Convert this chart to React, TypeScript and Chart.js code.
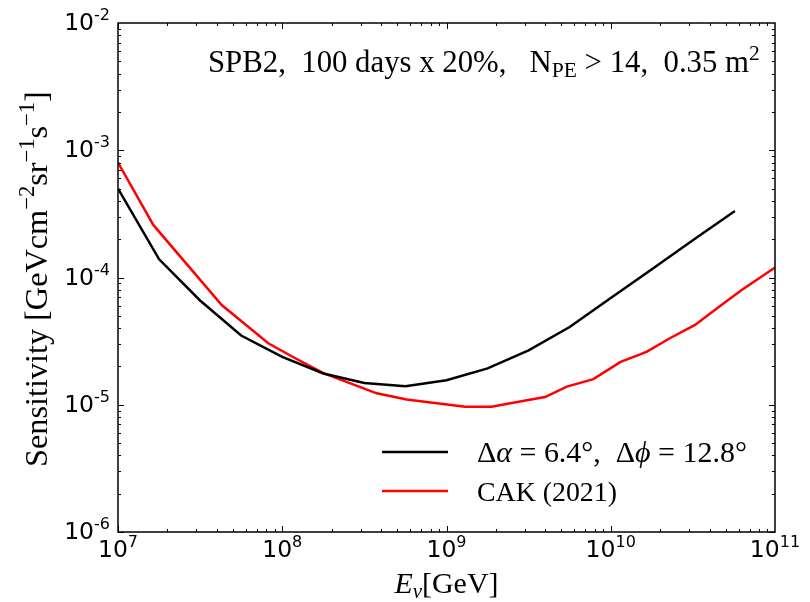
import React, { useEffect, useRef } from "react";
import { Chart, registerables } from "chart.js";

Chart.register(...registerables);

// ---------- data ----------
const xBlack = [1e7, 1.78e7, 3.16e7, 5.62e7, 1e8, 1.78e8, 3.16e8, 5.62e8, 1e9, 1.78e9, 3.16e9, 5.62e9, 1e10, 1.78e10, 3.16e10, 5.7e10];
const yBlack = [5.0e-4, 1.39e-4, 6.6e-5, 3.5e-5, 2.38e-5, 1.76e-5, 1.48e-5, 1.4e-5, 1.56e-5, 1.93e-5, 2.68e-5, 4.08e-5, 6.9e-5, 1.16e-4, 1.96e-4, 3.33e-4];

const xRed = [1e7, 1.64e7, 4.28e7, 8.22e7, 1.2e8, 1.78e8, 3.76e8, 5.72e8, 1.3e9, 1.88e9, 2.8e9, 3.98e9, 5.4e9, 7.84e9, 1.14e10, 1.65e10, 2.29e10, 3.26e10, 4.63e10, 6.27e10, 1e11];
const yRed = [8.0e-4, 2.59e-4, 6.08e-5, 3.04e-5, 2.32e-5, 1.77e-5, 1.23e-5, 1.1e-5, 9.66e-6, 9.66e-6, 1.06e-5, 1.15e-5, 1.39e-5, 1.59e-5, 2.16e-5, 2.6e-5, 3.33e-5, 4.24e-5, 5.97e-5, 7.98e-5, 1.2e-4];

const xTickExponents = [7, 8, 9, 10, 11];
const yTickExponents = [-6, -5, -4, -3, -2];

const seriesLabels = ["Δα = 6.4°,  Δϕ = 12.8°", "CAK (2021)"];
const seriesColors = ["#000000", "#ff0000"];

// ---------- text helpers ----------
const SERIF = '"Liberation Serif", "Times New Roman", serif';
const SANS = '"DejaVu Sans", sans-serif';

type Run = { t: string; size: number; italic?: boolean; dy?: number; family?: string };

function fontOf(r: Run, s: number) {
  return `${r.italic ? "italic " : ""}${(r.size * s).toFixed(2)}px ${r.family ?? SERIF}`;
}
function widthOf(ctx: CanvasRenderingContext2D, runs: Run[], s: number) {
  let w = 0;
  for (const r of runs) {
    ctx.font = fontOf(r, s);
    w += ctx.measureText(r.t).width;
  }
  return w;
}
function drawRuns(ctx: CanvasRenderingContext2D, runs: Run[], x: number, y: number, s: number) {
  for (const r of runs) {
    ctx.font = fontOf(r, s);
    ctx.fillText(r.t, x, y + (r.dy ?? 0) * s);
    x += ctx.measureText(r.t).width;
  }
}
function fit(ctx: CanvasRenderingContext2D, runs: Run[], target: number) {
  return target / widthOf(ctx, runs, 1);
}

const overlay = {
  id: "overlay",
  afterDraw(chart: any) {
    const { ctx, chartArea: a, scales } = chart;
    const xs = scales.x;
    const ys = scales.y;
    ctx.save();
    ctx.fillStyle = "#000";
    ctx.strokeStyle = "#000";
    ctx.textBaseline = "alphabetic";

    // ticks (inward, all four sides)
    ctx.lineWidth = 1;
    ctx.beginPath();
    for (let e = xTickExponents[0]; e < xTickExponents[xTickExponents.length - 1]; e++) {
      for (let m = 1; m <= 9; m++) {
        const px = Math.round(xs.getPixelForValue(m * Math.pow(10, e))) + 0.5;
        const len = m === 1 ? 6 : 3;
        ctx.moveTo(px, a.bottom);
        ctx.lineTo(px, a.bottom - len);
        ctx.moveTo(px, a.top);
        ctx.lineTo(px, a.top + len);
      }
    }
    for (let e = yTickExponents[0]; e < yTickExponents[yTickExponents.length - 1]; e++) {
      for (let m = 1; m <= 9; m++) {
        const py = Math.round(ys.getPixelForValue(m * Math.pow(10, e))) + 0.5;
        const len = m === 1 ? 6 : 3;
        ctx.moveTo(a.left, py);
        ctx.lineTo(a.left + len, py);
        ctx.moveTo(a.right, py);
        ctx.lineTo(a.right - len, py);
      }
    }
    ctx.stroke();

    // frame
    ctx.lineWidth = 1.5;
    ctx.strokeRect(a.left, a.top, a.right - a.left, a.bottom - a.top);

    // y tick labels
    for (const e of yTickExponents) {
      const py = ys.getPixelForValue(Math.pow(10, e));
      const runs: Run[] = [
        { t: "10", size: 23.5, family: SANS },
        { t: String(e), size: 16, family: SANS, dy: -10 },
      ];
      const w = widthOf(ctx, runs, 1);
      drawRuns(ctx, runs, a.left - 8 - w, py + 7, 1);
    }
    // x tick labels
    for (const e of xTickExponents) {
      const px = xs.getPixelForValue(Math.pow(10, e));
      const runs: Run[] = [
        { t: "10", size: 23.5, family: SANS },
        { t: String(e), size: 16, family: SANS, dy: -10 },
      ];
      const w = widthOf(ctx, runs, 1);
      drawRuns(ctx, runs, px - w / 2, a.bottom + 25, 1);
    }

    // x axis title
    {
      const runs: Run[] = [
        { t: "E", size: 30, italic: true },
        { t: "ν", size: 21, italic: true, dy: 5 },
        { t: "[GeV]", size: 30 },
      ];
      const s = fit(ctx, runs, 104);
      const cx = (a.left + a.right) / 2;
      drawRuns(ctx, runs, cx - 52, 593, s);
    }

    // y axis title
    {
      const runs: Run[] = [
        { t: "Sensitivity [GeVcm", size: 30 },
        { t: "−2", size: 21, dy: -12 },
        { t: "sr", size: 30 },
        { t: "−1", size: 21, dy: -12 },
        { t: "s", size: 30 },
        { t: "−1", size: 21, dy: -12 },
        { t: "]", size: 30 },
      ];
      const s = fit(ctx, runs, 376);
      ctx.save();
      ctx.translate(47, 279);
      ctx.rotate(-Math.PI / 2);
      drawRuns(ctx, runs, -188, 0, s);
      ctx.restore();
    }

    // annotation
    {
      const runs: Run[] = [
        { t: "SPB2,  100 days x 20%,   N", size: 30 },
        { t: "PE", size: 21, dy: 5 },
        { t: " > 14,  0.35 m", size: 30 },
        { t: "2", size: 21, dy: -12 },
      ];
      const s = fit(ctx, runs, 552);
      drawRuns(ctx, runs, 208, 72, s);
    }

    // legend
    {
      const rows: Run[][] = [
        [
          { t: "Δ", size: 27 },
          { t: "α", size: 27, italic: true },
          { t: " = 6.4°,  Δ", size: 27 },
          { t: "ϕ", size: 27, italic: true },
          { t: " = 12.8°", size: 27 },
        ],
        [{ t: seriesLabels[1], size: 27 }],
      ];
      const targets = [270, 140];
      const lineY = [452, 491];
      const baseY = [462, 501];
      rows.forEach((runs, i) => {
        ctx.strokeStyle = seriesColors[i];
        ctx.lineWidth = 2.5;
        ctx.beginPath();
        ctx.moveTo(382, lineY[i]);
        ctx.lineTo(448, lineY[i]);
        ctx.stroke();
        ctx.fillStyle = "#000";
        drawRuns(ctx, runs, 477, baseY[i], fit(ctx, runs, targets[i]));
      });
    }

    ctx.restore();
  },
};

export default function App() {
  const ref = useRef<HTMLCanvasElement | null>(null);
  useEffect(() => {
    if (!ref.current) return;
    const chart = new Chart(ref.current, {
      type: "line",
      data: {
        datasets: [
          {
            label: seriesLabels[0],
            data: xBlack.map((x, i) => ({ x, y: yBlack[i] })),
            borderColor: seriesColors[0],
            backgroundColor: seriesColors[0],
            borderWidth: 2.5,
            pointRadius: 0,
            tension: 0,
          },
          {
            label: seriesLabels[1],
            data: xRed.map((x, i) => ({ x, y: yRed[i] })),
            borderColor: seriesColors[1],
            backgroundColor: seriesColors[1],
            borderWidth: 2.5,
            pointRadius: 0,
            tension: 0,
          },
        ],
      },
      options: {
        animation: false,
        responsive: false,
        devicePixelRatio: 1,
        layout: { padding: { top: 23, right: 35, left: 0, bottom: 0 } },
        plugins: { legend: { display: false }, tooltip: { enabled: false }, title: { display: false } },
        scales: {
          x: {
            type: "logarithmic",
            min: 1e7,
            max: 1e11,
            grid: { display: false },
            border: { display: false },
            ticks: { display: false },
            afterFit: (sc: any) => {
              sc.height = 70;
            },
          },
          y: {
            type: "logarithmic",
            min: 1e-6,
            max: 1e-2,
            grid: { display: false },
            border: { display: false },
            ticks: { display: false },
            afterFit: (sc: any) => {
              sc.width = 118;
            },
          },
        },
      } as any,
      plugins: [overlay],
    });
    return () => chart.destroy();
  }, []);
  return (
    <div style={{ position: "absolute", left: 0, top: 0, width: 810, height: 602, background: "#fff" }}>
      <canvas ref={ref} width={810} height={602} style={{ display: "block" }} />
    </div>
  );
}
